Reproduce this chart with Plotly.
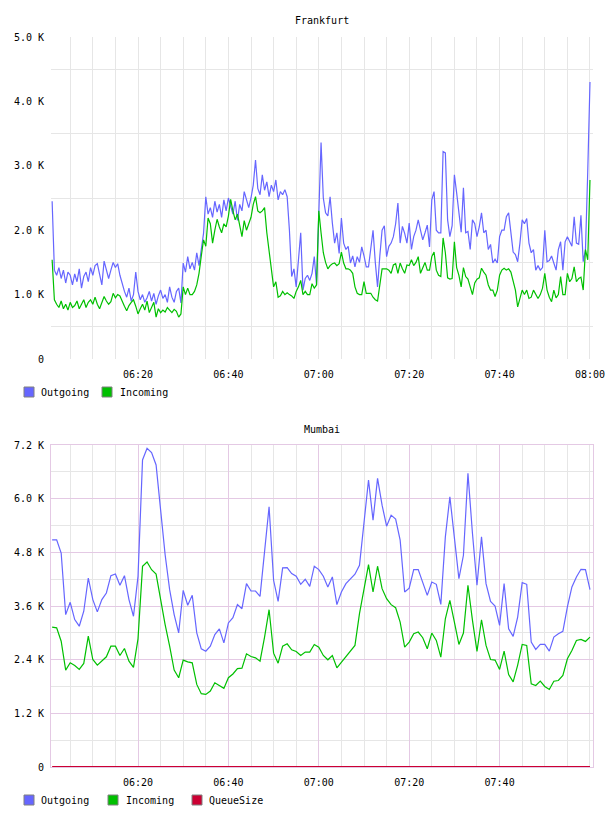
import pandas as pd
import plotly.graph_objects as go

# ---------------- Data ----------------
# Frankfurt: samples every 30 s starting 06:01
FRA_START = "2024-01-01 06:01:00"
FRA_OUTGOING = [
    2450, 1380, 1300, 1420, 1250, 1380, 1180, 1350, 1300, 1150,
    1320, 1200, 1400, 1100, 1280, 1350, 1200, 1420, 1300, 1450,
    1480, 1300, 1150, 1520, 1400, 1250, 1380, 1500, 1420, 1480,
    1300, 1150, 1050, 960, 1100, 900, 1000, 1350, 1050, 920,
    1000, 880, 950, 1050, 900, 1020, 850, 980, 1070, 940,
    1000, 880, 1120, 960, 880, 1050, 1100, 870, 1490, 1350,
    1590, 1400, 1500, 1380, 1650, 1450, 1750, 1950, 2520, 2250,
    2350, 2200, 2450, 2280, 2400, 2200, 2470, 2300, 2500, 2350,
    2250, 2450, 2150, 2400, 2300, 2600, 2450, 2350, 2500, 2700,
    3090, 2650, 2550, 2860, 2620, 2750, 2520, 2700, 2600, 2780,
    2470, 2600, 2550, 2630, 2520, 2000, 1280, 1400, 1120, 1500,
    1960, 1070, 1250, 1300, 1220, 1330, 1590, 1150, 2400, 3360,
    2500, 2270, 2220, 2520, 2110, 1800, 1960, 1640, 2190, 1800,
    1700, 1750, 1490, 1600, 1430, 1590, 1500, 1740, 1600, 1430,
    1430, 1750, 2000, 1500, 1120, 1600, 2000, 2070, 1590, 1750,
    1800, 1900, 2100, 2420, 1800, 2060, 1950, 1800, 2110, 1700,
    1900, 2000, 2160, 2000, 1850, 1960, 2080, 1740, 2470, 2600,
    2000, 1960, 1960, 3220, 3200, 2160, 1900, 2070, 2860, 2580,
    2300, 1970, 2660, 1960, 1980, 1700, 2160, 2100, 1900, 2050,
    2270, 1960, 2000, 1700, 1780, 1490, 1550, 1490, 1900, 2000,
    2000, 2210, 2270, 2000, 1660, 1620, 1510, 1800, 2160, 2100,
    2180, 1800, 1650, 1700, 1380, 1450, 1380, 1420, 2000, 1510,
    1530, 1600, 1490, 1380, 1700, 1820, 1380, 1820, 1900, 1820,
    1750, 2210, 1800, 1780, 2230, 1510, 1700, 2900, 4300,
]
FRA_INCOMING = [
    1540, 920, 850, 800, 900, 780, 850, 760, 880, 800,
    830, 900, 780, 850, 920, 800, 880, 920, 850, 960,
    850, 780, 880, 970, 900, 850, 890, 1020, 950, 1000,
    980, 890, 820, 750, 830, 880, 920, 820, 700, 780,
    850, 760, 900, 720, 800, 880, 650, 780, 720, 760,
    730, 800, 760, 720, 770, 740, 650, 700, 1120, 1000,
    1100, 1000, 1000, 1050, 1150, 1330, 1600, 1850, 1750, 2190,
    2100, 1800, 2000, 2170, 2050, 1960, 2100, 2050, 2220, 2480,
    2300, 2160, 2250, 2100, 1900, 2150, 2000, 2100, 2200, 2400,
    2520, 2300, 2270, 2300, 2350, 1960, 1650, 1430, 1120, 1200,
    960, 980, 1050, 1000, 1030, 1000, 980, 940, 1050, 1120,
    1220, 1000, 1050, 1000, 1000, 1170, 1100, 1150, 2300, 1960,
    1650, 1500, 1400, 1450, 1480, 1490, 1450, 1480, 1660, 1490,
    1400, 1400, 1380, 1330, 1120, 1020, 1000, 1000, 1200, 1020,
    1020, 1020, 960, 920, 900, 1120, 1400, 1400, 1400, 1380,
    1330, 1460, 1480, 1330, 1490, 1400, 1330, 1460, 1450, 1540,
    1450, 1500, 1590, 1330, 1420, 1500, 1380, 1380, 1590, 1660,
    1380, 1300, 1280, 1880, 1650, 1260, 1240, 1250, 1820, 1420,
    1300, 1120, 1420, 1280, 1240, 1100, 1000, 1180, 1240, 1260,
    1410, 1350, 1300, 1150, 1070, 1070, 970, 1070, 1300, 1380,
    1410, 1380, 1400, 1350, 1200, 1070, 810, 960, 1070, 1000,
    1070, 940, 960, 1070, 1000, 940, 1000, 1100, 1330, 1070,
    960, 890, 1070, 950, 1000, 1280, 1000, 1000, 1330, 1200,
    1250, 1430, 1200, 1250, 1270, 1070, 1700, 1540, 2780,
]

# Mumbai: samples every minute starting 06:01
MUM_START = "2024-01-01 06:01:00"
MUM_OUTGOING = [
    5080, 5080, 4784, 3408, 3683, 3297, 3148, 3483, 4226, 3743,
    3468, 3743, 3891, 4278, 4315, 4062, 4278, 3743, 3371, 4263,
    6866, 7126, 7029, 6754, 5750, 4746, 3966, 3408, 2999, 3951,
    3617, 3840, 2999, 2643, 2590, 2702, 2962, 3089, 2776, 3222,
    3340, 3630, 3540, 4100, 3935, 3935, 3816, 4847, 5818, 4175,
    3704, 4451, 4458, 4325, 4265, 4085, 4197, 4040, 4489, 4414,
    4265, 4025, 4250, 3630, 3913, 4100, 4212, 4310, 4511, 5519,
    6416, 5519, 6453, 5855, 5385, 5631, 5542, 5071, 3913, 4000,
    4414, 4414, 4100, 3838, 4137, 4085, 3637, 5146, 6042, 5146,
    4212, 4735, 6565, 5220, 4063, 5146, 4100, 3704, 3600, 3166,
    4100, 3092, 2920, 3353, 4122, 4085, 2793, 2629, 2740, 2740,
    2591, 2905, 2980, 3032, 3578, 4025, 4250, 4421, 4414, 3966,
]
MUM_INCOMING = [
    3126, 3111, 2813, 2167, 2330, 2271, 2181, 2315, 2925, 2404,
    2278, 2367, 2464, 2702, 2702, 2494, 2650, 2367, 2226, 2865,
    4486, 4583, 4412, 4315, 3743, 3185, 2702, 2167, 1996, 2390,
    2352, 2330, 1847, 1639, 1624, 1698, 1884, 1825, 1758, 1996,
    2080, 2200, 2210, 2531, 2471, 2441, 2367, 2905, 3517, 2546,
    2322, 2703, 2755, 2621, 2584, 2494, 2569, 2569, 2740, 2680,
    2494, 2397, 2494, 2218, 2345, 2471, 2591, 2718, 3428, 4025,
    4526, 3913, 4489, 3988, 3764, 3630, 3562, 3241, 2680, 2793,
    2980, 3018, 2890, 2644, 2995, 2830, 2456, 3315, 3726, 3241,
    2740, 2995, 4063, 3278, 2584, 3293, 2718, 2404, 2390, 2181,
    2591, 2068, 1904, 2278, 2740, 2718, 1859, 1822, 1919, 1800,
    1733, 1919, 1934, 2046, 2420, 2606, 2830, 2852, 2808, 2905,
]
MUM_QUEUESIZE = [
    0, 0, 0, 0, 0, 0, 0, 0, 0, 0, 0, 0, 0, 0, 0, 0, 0, 0, 0, 0,
    0, 0, 0, 0, 0, 0, 0, 0, 0, 0, 0, 0, 0, 0, 0, 0, 0, 0, 0, 0,
    0, 0, 0, 0, 0, 0, 0, 0, 0, 0, 0, 0, 0, 0, 0, 0, 0, 0, 0, 0,
    0, 0, 0, 0, 0, 0, 0, 0, 0, 0, 0, 0, 0, 0, 0, 0, 0, 0, 0, 0,
    0, 0, 0, 0, 0, 0, 0, 0, 0, 0, 0, 0, 0, 0, 0, 0, 0, 0, 0, 0,
    0, 0, 0, 0, 0, 0, 0, 0, 0, 0, 0, 0, 0, 0, 0, 0, 0, 0, 0, 0,
]

FRA_Y_TICKS = [0, 1000, 2000, 3000, 4000, 5000]
FRA_Y_LABELS = ["0", "1.0 K", "2.0 K", "3.0 K", "4.0 K", "5.0 K"]
MUM_Y_TICKS = [0, 1200, 2400, 3600, 4800, 6000, 7200]
MUM_Y_LABELS = ["0", "1.2 K", "2.4 K", "3.6 K", "4.8 K", "6.0 K", "7.2 K"]
FRA_X_TICKS = ["06:20", "06:40", "07:00", "07:20", "07:40", "08:00"]
MUM_X_TICKS = ["06:20", "06:40", "07:00", "07:20", "07:40"]

SERIES_COLORS = {"Outgoing": "#6666ff", "Incoming": "#00c000", "QueueSize": "#cc0033"}

# ---------------- Figure ----------------
W, H = 608, 816
FONT = "DejaVu Sans Mono"
DAY = "2024-01-01 "
X_RANGE = [DAY + "06:00:45", DAY + "08:00:40"]

fra_t = pd.date_range(FRA_START, periods=len(FRA_OUTGOING), freq="30s")
mum_t = pd.date_range(MUM_START, periods=len(MUM_OUTGOING), freq="60s")
minor_x = list(pd.date_range(DAY + "06:05", DAY + "08:00", freq="5min"))


def px_x(p):
    return p / W


def px_y(p):
    return 1 - p / H


GRID_GRAY = "#e6e6e6"
GRID_PINK = "#e4c9e4"

fig = go.Figure()

fig.add_trace(go.Scatter(x=fra_t, y=FRA_OUTGOING, mode="lines", name="Outgoing",
                         line=dict(color=SERIES_COLORS["Outgoing"], width=1.2),
                         xaxis="x", yaxis="y", showlegend=False))
fig.add_trace(go.Scatter(x=fra_t, y=FRA_INCOMING, mode="lines", name="Incoming",
                         line=dict(color=SERIES_COLORS["Incoming"], width=1.2),
                         xaxis="x", yaxis="y", showlegend=False))
fig.add_trace(go.Scatter(x=mum_t, y=MUM_OUTGOING, mode="lines", name="Outgoing",
                         line=dict(color=SERIES_COLORS["Outgoing"], width=1.2),
                         xaxis="x2", yaxis="y2", showlegend=False))
fig.add_trace(go.Scatter(x=mum_t, y=MUM_INCOMING, mode="lines", name="Incoming",
                         line=dict(color=SERIES_COLORS["Incoming"], width=1.2),
                         xaxis="x2", yaxis="y2", showlegend=False))
fig.add_trace(go.Scatter(x=mum_t, y=MUM_QUEUESIZE, mode="lines", name="QueueSize",
                         line=dict(color=SERIES_COLORS["QueueSize"], width=2),
                         xaxis="x2", yaxis="y2", showlegend=False))

tickfont = dict(family=FONT, size=10, color="#000000")
xdom = [px_x(51), px_x(593)]

fig.update_layout(
    width=W, height=H,
    margin=dict(l=0, r=0, t=0, b=0),
    paper_bgcolor="white", plot_bgcolor="white",
    font=dict(family=FONT, size=10, color="#000000"),
    xaxis=dict(
        domain=xdom, anchor="y", type="date", range=X_RANGE,
        tickmode="array", tickvals=[DAY + v for v in FRA_X_TICKS], ticktext=FRA_X_TICKS,
        showgrid=True, gridcolor=GRID_GRAY, gridwidth=1,
        minor=dict(tickvals=minor_x, showgrid=True, gridcolor=GRID_GRAY, ticks=""),
        ticks="outside", ticklen=6, tickcolor="rgba(0,0,0,0)",
        showline=False, zeroline=False, tickfont=tickfont, automargin=False,
    ),
    yaxis=dict(
        domain=[px_y(359), px_y(37)], anchor="x", range=[0, 5000],
        tickmode="array", tickvals=FRA_Y_TICKS, ticktext=FRA_Y_LABELS,
        showgrid=False,
        minor=dict(tickvals=[500, 1500, 2500, 3500, 4500], showgrid=True,
                   gridcolor=GRID_GRAY, ticks=""),
        ticks="outside", ticklen=4, tickcolor="rgba(0,0,0,0)",
        showline=False, zeroline=False, tickfont=tickfont, automargin=False,
    ),
    xaxis2=dict(
        domain=xdom, anchor="y2", type="date", range=X_RANGE,
        tickmode="array", tickvals=[DAY + v for v in MUM_X_TICKS], ticktext=MUM_X_TICKS,
        showgrid=True, gridcolor=GRID_PINK, gridwidth=1,
        minor=dict(tickvals=minor_x, showgrid=True, gridcolor=GRID_GRAY, ticks=""),
        ticks="outside", ticklen=6, tickcolor="rgba(0,0,0,0)",
        showline=True, linecolor=GRID_PINK, linewidth=1, mirror=True,
        zeroline=False, tickfont=tickfont, automargin=False,
    ),
    yaxis2=dict(
        domain=[px_y(767), px_y(445)], anchor="x2", range=[0, 7200],
        tickmode="array", tickvals=MUM_Y_TICKS, ticktext=MUM_Y_LABELS,
        showgrid=True, gridcolor=GRID_PINK,
        minor=dict(tickvals=[600, 1800, 3000, 4200, 5400, 6600], showgrid=True,
                   gridcolor=GRID_GRAY, ticks=""),
        ticks="outside", ticklen=4, tickcolor="rgba(0,0,0,0)",
        showline=True, linecolor=GRID_PINK, linewidth=1, mirror=True,
        zeroline=False, tickfont=tickfont, automargin=False,
    ),
)

annotations = [
    dict(text="Frankfurt", x=px_x(322), y=px_y(20), xref="paper", yref="paper",
         xanchor="center", yanchor="middle", showarrow=False,
         font=dict(family=FONT, size=10, color="#000000")),
    dict(text="Mumbai", x=px_x(322), y=px_y(429), xref="paper", yref="paper",
         xanchor="center", yanchor="middle", showarrow=False,
         font=dict(family=FONT, size=10, color="#000000")),
]
shapes = []

# Manual legends (square swatches + labels)
legend_items = [
    ("Outgoing", 24, 39, 392),
    ("Incoming", 102, 118, 392),
    ("Outgoing", 24, 39, 800),
    ("Incoming", 108, 124, 800),
    ("QueueSize", 192, 207, 800),
]
for name, sx, tx, cy in legend_items:
    shapes.append(dict(type="rect", xref="paper", yref="paper",
                       x0=px_x(sx), x1=px_x(sx + 10), y0=px_y(cy + 5), y1=px_y(cy - 5),
                       fillcolor=SERIES_COLORS[name], line=dict(color="#808080", width=1)))
    annotations.append(dict(text=name, x=px_x(tx), y=px_y(cy), xref="paper", yref="paper",
                            xanchor="left", yanchor="middle", showarrow=False,
                            font=dict(family=FONT, size=10, color="#000000")))

fig.update_layout(annotations=annotations, shapes=shapes)

fig.write_html("out.html")
